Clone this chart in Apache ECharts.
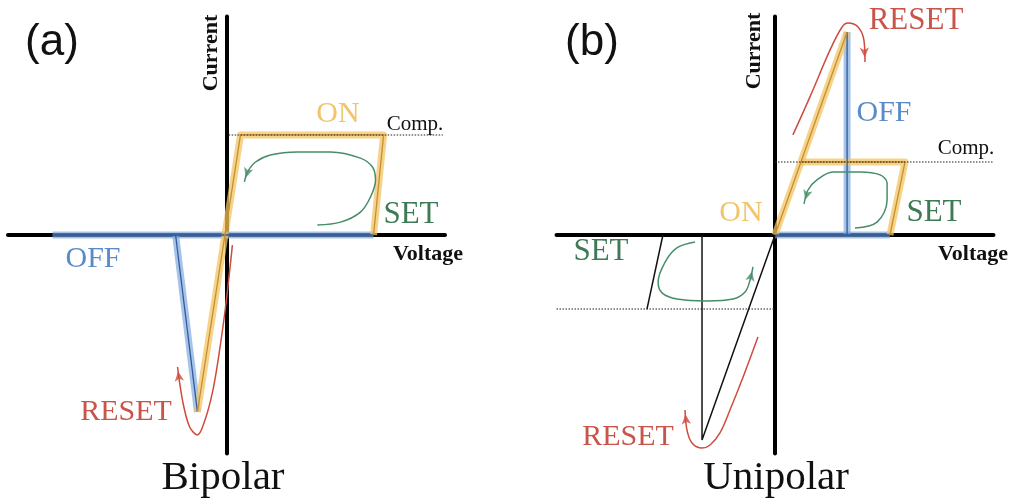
<!DOCTYPE html>
<html>
<head>
<meta charset="utf-8">
<script src="https://cdn.jsdelivr.net/npm/echarts@6/dist/echarts.min.js"></script>
<style>
  html, body { margin: 0; padding: 0; background: #fff; }
  #chart { width: 1019px; height: 503px; }
</style>
</head>
<body>
<div id="chart"></div>
<script>
// ---- (a) Bipolar switching: I–V sketch, arbitrary units ----
const bipolarOnPath      = [[-1.33, -8.10], [0.64, 4.58], [7.19, 4.58], [6.73, 0]];
const bipolarOffSweep    = [[-7.96, 0], [6.73, 0]];
const bipolarOffDrop     = [[-2.33, 0], [-1.33, -8.10]];
const bipolarCompliance  = [[0.1, 4.58], [9.9, 4.58]];
const bipolarSetSweep    = [[4.16, 0.46], [5.22, 0.59], [6.13, 1.05], [6.59, 1.74], [6.82, 2.52], [6.68, 3.11],
                            [6.13, 3.52], [4.76, 3.80], [3.25, 3.80], [2.01, 3.66], [1.33, 3.34], [0.96, 2.88], [0.82, 2.43]];
const bipolarResetSweep  = [[0.27, -0.46], [-0.05, -3.34], [-0.37, -5.63], [-0.64, -7.19], [-0.98, -8.45], [-1.33, -9.15],
                            [-1.68, -8.80], [-1.97, -7.78], [-2.15, -6.73], [-2.24, -6.04]];

// ---- (b) Unipolar switching ----
const unipolarOnPath     = [[0, 0], [3.30, 9.29]];
const unipolarSetPath    = [[1.19, 3.34], [5.95, 3.34], [5.26, 0]];
const unipolarOffSweep   = [[0, 0], [5.26, 0]];
const unipolarOffDrop    = [[3.30, 0], [3.30, 9.29]];
const unipolarCompliance = [[0, 3.34], [10, 3.34]];
const unipolarNegSet     = [[-5.13, 0], [-5.86, -3.39]];
const unipolarNegComp    = [[-10, -3.39], [0, -3.39]];
const unipolarNegReset   = [[-3.34, 0], [-3.34, -9.38], [0, 0]];
const unipolarSetSweep   = [[3.66, 0.32], [4.67, 0.59], [5.13, 1.60], [5.13, 2.38], [4.81, 2.75], [3.89, 2.88],
                            [2.65, 2.88], [1.92, 2.52], [1.51, 2.06], [1.33, 1.42]];
const unipolarResetSweep = [[0.82, 4.58], [1.60, 6.32], [2.52, 8.47], [3.07, 9.52], [3.34, 9.70], [3.80, 9.52],
                            [4.07, 8.92], [4.12, 7.92]];
const unipolarNegSetSweep   = [[-3.66, -0.32], [-4.49, -0.59], [-5.03, -1.24], [-5.35, -2.15], [-5.17, -2.65], [-4.49, -2.93],
                               [-3.11, -3.02], [-1.92, -2.93], [-1.37, -2.61], [-1.14, -2.06], [-1.01, -1.46]];
const unipolarNegResetSweep = [[-0.78, -4.67], [-1.46, -6.50], [-2.06, -8.01], [-2.52, -9.06], [-2.97, -9.61], [-3.34, -9.75],
                               [-3.80, -9.52], [-4.03, -8.92], [-4.12, -8.01]];

const SERIF = '"Liberation Serif", "DejaVu Serif", serif';
const SANS = '"Liberation Sans", Arial, sans-serif';
const C = {
  onBand: 'rgba(243, 196, 98, 0.75)', onCore: '#c28f35',
  offBand: 'rgba(120, 165, 220, 0.65)', offCore: '#2f5a9e',
  set: '#468e69', reset: '#cf4b3e',
  onText: '#f0c56c', offText: '#5a8bc8', setText: '#3e7a56', resetText: '#c9544a'
};

const series = [];

function onGrid(idx, s) {
  return Object.assign({ xAxisIndex: idx, yAxisIndex: idx, symbol: 'none', silent: true, animation: false }, s);
}

// highlighted state branch: a soft wide band with a thin darker trace on top
function addBand(data, idx, band, core) {
  series.push(onGrid(idx, { type: 'line', data, z: 2, lineStyle: { color: band, width: 7, join: 'round' } }));
  series.push(onGrid(idx, { type: 'line', data, z: 3, lineStyle: { color: core, width: 1.3 } }));
}

function addThin(data, idx, color, width, dash) {
  series.push(onGrid(idx, { type: 'line', data, z: 4, lineStyle: { color, width, type: dash || 'solid' } }));
}

// curved sweep-direction arrow, arrowhead aligned to the last segment
function addSweep(data, idx, color) {
  series.push(onGrid(idx, { type: 'line', data, smooth: 0.35, z: 5, lineStyle: { color, width: 1.5 } }));
  const n = data.length;
  const a = data[n - 2], b = data[n - 1];
  const ang = Math.atan2(b[1] - a[1], b[0] - a[0]);
  const back = 0.2;
  series.push(onGrid(idx, {
    type: 'scatter', z: 6, symbol: 'arrow', symbolSize: [7, 10],
    itemStyle: { color },
    data: [{ value: [b[0] - back * Math.cos(ang), b[1] - back * Math.sin(ang)], symbolRotate: ang * 180 / Math.PI - 90 }]
  }));
}

// (a)
addBand(bipolarOffSweep, 0, C.offBand, C.offCore);
addBand(bipolarOffDrop, 0, C.offBand, C.offCore);
addBand(bipolarOnPath, 0, C.onBand, C.onCore);
addThin(bipolarCompliance, 0, '#222', 1.1, [1.5, 1.5]);
addSweep(bipolarSetSweep, 0, C.set);
addSweep(bipolarResetSweep, 0, C.reset);

// (b)
addBand(unipolarOffSweep, 1, C.offBand, C.offCore);
addBand(unipolarOffDrop, 1, C.offBand, C.offCore);
addBand(unipolarOnPath, 1, C.onBand, C.onCore);
addBand(unipolarSetPath, 1, C.onBand, C.onCore);
addThin(unipolarCompliance, 1, '#222', 1.1, [1.5, 1.5]);
addThin(unipolarNegComp, 1, '#222', 1.1, [1.5, 1.5]);
addThin(unipolarNegSet, 1, '#111', 1.5);
addThin(unipolarNegReset, 1, '#111', 1.5);
addSweep(unipolarSetSweep, 1, C.set);
addSweep(unipolarResetSweep, 1, C.reset);
addSweep(unipolarNegSetSweep, 1, C.set);
addSweep(unipolarNegResetSweep, 1, C.reset);

function axis(idx) {
  return {
    gridIndex: idx, type: 'value', min: -10, max: 10,
    axisLine: { show: true, onZero: true, lineStyle: { color: '#000', width: 4 } },
    axisTick: { show: false }, axisLabel: { show: false }, splitLine: { show: false }
  };
}

function txt(text, x, y, size, color, family) {
  return {
    type: 'text', x, y, silent: true,
    style: { text, fontFamily: family || SERIF, fontSize: size, fill: color, align: 'center', verticalAlign: 'middle' }
  };
}
function bold(text, x, y, rotated) {
  const t = txt(text, x, y, 22, '#111');
  t.style.fontWeight = 'bold';
  if (rotated) t.rotation = Math.PI / 2;
  return t;
}

const graphic = [
  // (a)
  txt('(a)', 52, 43, 44, '#111', SANS),
  bold('Current', 211, 53, true),
  bold('Voltage', 428, 254),
  txt('ON', 338, 114, 30, C.onText),
  txt('Comp.', 415, 124, 21, '#111'),
  txt('SET', 411, 215, 31, C.setText),
  txt('OFF', 93, 259, 30, C.offText),
  txt('RESET', 126, 412, 30, C.resetText),
  txt('Bipolar', 223, 478, 41, '#111'),
  // (b)
  txt('(b)', 592, 43, 44, '#111', SANS),
  bold('Current', 754, 51, true),
  bold('Voltage', 973, 254),
  txt('RESET', 916, 21, 31, C.resetText),
  txt('OFF', 884, 113, 30, C.offText),
  txt('Comp.', 966, 148, 21, '#111'),
  txt('ON', 741, 213, 30, C.onText),
  txt('SET', 934, 213, 31, C.setText),
  txt('SET', 601, 252, 31, C.setText),
  txt('RESET', 628, 437, 30, C.resetText),
  txt('Unipolar', 776, 478, 41, '#111')
];

const chart = echarts.init(document.getElementById('chart'), null, { renderer: 'canvas' });
chart.setOption({
  backgroundColor: '#fff',
  animation: false,
  grid: [
    { left: 8, top: 16.5, width: 437, height: 437 },
    { left: 556.5, top: 16.5, width: 437, height: 437 }
  ],
  xAxis: [axis(0), axis(1)],
  yAxis: [axis(0), axis(1)],
  series,
  graphic
});
</script>
</body>
</html>
